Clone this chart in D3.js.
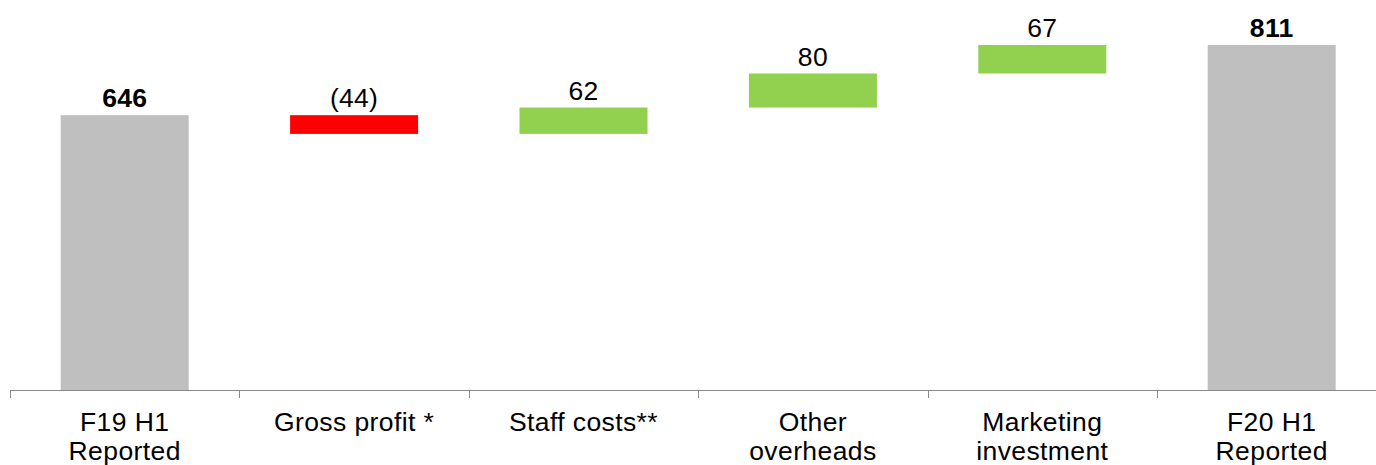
<!DOCTYPE html>
<html>
<head>
<meta charset="utf-8">
<script src="https://cdn.jsdelivr.net/npm/d3@7"></script>
<style>
  html, body { margin: 0; padding: 0; background: #fff; }
  svg { display: block; }
  text { font-family: "Liberation Sans", Arial, sans-serif; fill: #000; }
</style>
</head>
<body>
<svg id="chart" width="1376" height="465"></svg>
<script>
const categories = [["F19 H1", "Reported"], ["Gross profit *"], ["Staff costs**"], ["Other", "overheads"], ["Marketing", "investment"], ["F20 H1", "Reported"]];
const values = [646, -44, 62, 80, 67, 811];
const kinds = ["total", "delta", "delta", "delta", "delta", "total"];
const valueLabels = ["646", "(44)", "62", "80", "67", "811"];

const svg = d3.select("#chart");
const baseY = 390;
const fontSize = 26.5;

const x = d3.scaleBand()
  .domain(d3.range(categories.length))
  .range([10, 10 + 229.4 * categories.length])
  .paddingInner(0.442)
  .paddingOuter(0.221);

const y = d3.scaleLinear().domain([0, 811]).range([baseY, 45]);

let running = 0;
const segs = values.map((v, i) => {
  let lo, hi;
  if (kinds[i] === "total") { lo = 0; hi = v; running = v; }
  else { const start = running; running += v; lo = Math.min(start, running); hi = Math.max(start, running); }
  return { i, lo, hi, v, kind: kinds[i] };
});

const colorOf = d => d.kind === "total" ? "#BFBFBF" : (d.v < 0 ? "#FF0000" : "#92D050");

svg.selectAll("rect.bar").data(segs).enter().append("rect")
  .attr("class", "bar")
  .attr("x", d => x(d.i))
  .attr("width", x.bandwidth())
  .attr("y", d => y(d.hi))
  .attr("height", d => y(d.lo) - y(d.hi))
  .attr("fill", colorOf);

svg.selectAll("text.val").data(segs).enter().append("text")
  .attr("class", "val")
  .attr("x", d => x(d.i) + x.bandwidth() / 2)
  .attr("y", d => y(d.hi) - 8)
  .attr("text-anchor", "middle")
  .attr("font-size", fontSize)
  .attr("letter-spacing", 0.3)
  .attr("font-weight", d => d.kind === "total" ? "bold" : "normal")
  .text(d => valueLabels[d.i]);

const axisG = svg.append("g").attr("transform", `translate(0,${baseY})`);
axisG.append("line").attr("x1", 10).attr("x2", 1376).attr("y1", 0.5).attr("y2", 0.5)
  .attr("stroke", "#898989").attr("stroke-width", 1);
const tickXs = d3.range(categories.length).map(i => x(i) - x.step() * x.paddingInner() / 2);
axisG.selectAll("line.tick").data(tickXs).enter().append("line")
  .attr("class", "tick")
  .attr("x1", d => Math.round(d) + 0.5).attr("x2", d => Math.round(d) + 0.5)
  .attr("y1", 0).attr("y2", 8)
  .attr("stroke", "#898989").attr("stroke-width", 1);

const labelG = svg.selectAll("text.cat").data(categories).enter().append("text")
  .attr("class", "cat")
  .attr("text-anchor", "middle")
  .attr("font-size", fontSize)
  .attr("letter-spacing", 0.4)
  .attr("x", (d, i) => x(i) + x.bandwidth() / 2)
  .attr("y", baseY + 41);
labelG.selectAll("tspan").data(d => d).enter().append("tspan")
  .attr("x", function() { return this.parentNode.getAttribute("x"); })
  .attr("dy", (d, j) => j === 0 ? 0 : 29)
  .text(d => d);
</script>
</body>
</html>
